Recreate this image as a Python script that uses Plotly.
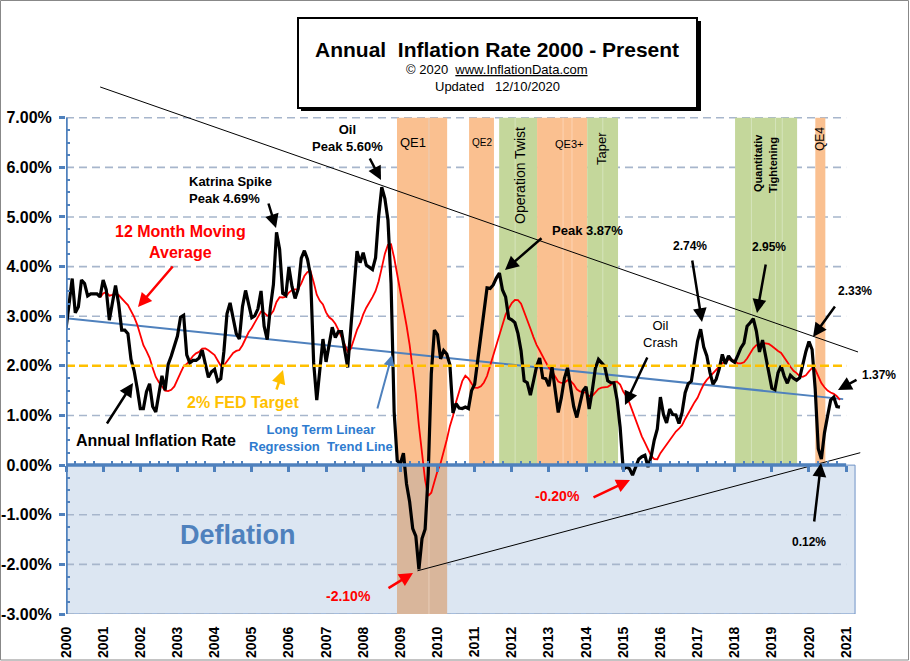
import plotly.graph_objects as go

# ---------------- DATA (annual CPI-U inflation rate, %, monthly) ----------------
rate_2000 = [2.74, 3.22, 3.76, 3.07, 3.19, 3.73, 3.66, 3.41, 3.45, 3.45, 3.45, 3.39]
rate_2001 = [3.73, 3.53, 2.92, 3.27, 3.62, 3.25, 2.72, 2.72, 2.65, 2.13, 1.90, 1.55]
rate_2002 = [1.14, 1.14, 1.48, 1.64, 1.18, 1.07, 1.46, 1.80, 1.51, 2.03, 2.20, 2.38]
rate_2003 = [2.60, 2.98, 3.02, 2.22, 2.06, 2.11, 2.11, 2.16, 2.32, 2.04, 1.77, 1.88]
rate_2004 = [1.93, 1.69, 1.74, 2.29, 3.05, 3.27, 2.99, 2.65, 2.54, 3.19, 3.52, 3.26]
rate_2005 = [2.97, 3.01, 3.15, 3.51, 2.80, 2.53, 3.17, 3.64, 4.69, 4.35, 3.46, 3.42]
rate_2006 = [3.99, 3.60, 3.36, 3.55, 4.17, 4.32, 4.15, 3.82, 2.06, 1.31, 1.97, 2.54]
rate_2007 = [2.08, 2.42, 2.78, 2.57, 2.69, 2.69, 2.36, 1.97, 2.76, 3.54, 4.31, 4.08]
rate_2008 = [4.28, 4.03, 3.98, 3.94, 4.18, 5.02, 5.60, 5.37, 4.94, 3.66, 1.07, 0.09]
rate_2009 = [0.03, 0.24, -0.38, -0.74, -1.28, -1.43, -2.10, -1.48, -1.29, -0.18, 1.84, 2.72]
rate_2010 = [2.63, 2.14, 2.31, 2.24, 2.02, 1.05, 1.24, 1.15, 1.14, 1.17, 1.14, 1.50]
rate_2011 = [1.63, 2.11, 2.68, 3.16, 3.57, 3.56, 3.63, 3.77, 3.87, 3.53, 3.39, 2.96]
rate_2012 = [2.93, 2.87, 2.65, 2.30, 1.70, 1.66, 1.41, 1.69, 1.99, 2.16, 1.76, 1.74]
rate_2013 = [1.59, 1.98, 1.47, 1.06, 1.36, 1.75, 1.96, 1.52, 1.18, 0.96, 1.24, 1.50]
rate_2014 = [1.58, 1.13, 1.51, 1.95, 2.13, 2.07, 1.99, 1.70, 1.66, 1.66, 1.32, 0.76]
rate_2015 = [-0.09, -0.03, -0.07, -0.20, -0.04, 0.12, 0.17, 0.20, -0.04, 0.17, 0.50, 0.73]
rate_2016 = [1.37, 1.02, 0.85, 1.13, 1.02, 1.01, 0.84, 1.06, 1.46, 1.64, 1.69, 2.07]
rate_2017 = [2.50, 2.74, 2.38, 2.20, 1.87, 1.63, 1.73, 1.94, 2.23, 2.04, 2.20, 2.11]
rate_2018 = [2.07, 2.21, 2.36, 2.46, 2.80, 2.87, 2.95, 2.70, 2.28, 2.52, 2.18, 1.91]
rate_2019 = [1.55, 1.52, 1.86, 2.00, 1.79, 1.65, 1.81, 1.75, 1.71, 1.76, 2.05, 2.29]
rate_2020 = [2.49, 2.33, 1.54, 0.33, 0.12, 0.65, 0.99, 1.31, 1.37, 1.18, 1.17]

annual_rate = (rate_2000 + rate_2001 + rate_2002 + rate_2003 + rate_2004 + rate_2005 +
               rate_2006 + rate_2007 + rate_2008 + rate_2009 + rate_2010 + rate_2011 +
               rate_2012 + rate_2013 + rate_2014 + rate_2015 + rate_2016 + rate_2017 +
               rate_2018 + rate_2019 + rate_2020)
months = [2000 + i / 12 for i in range(len(annual_rate))]
# 12 month moving average of the annual rate
ma12 = [sum(annual_rate[i - 11:i + 1]) / 12 for i in range(11, len(annual_rate))]
ma12_x = months[11:]

# Long-term linear regression trend line (end points)
trend_x = [2000.0, 2020.92]
trend_y = [2.96, 1.33]
# Fed 2% target
fed_x = [2000.0, 2021.0]
fed_y = [2.0, 2.0]
# Hand drawn channel lines
upper_x = [2000.92, 2021.32]
upper_y = [7.62, 2.28]
lower_x = [2009.46, 2021.38]
lower_y = [-2.13, 0.25]

# Policy bands
band_names = ["QE1", "QE2", "Operation Twist", "QE3+", "Taper", "Quantitative Tightening", "QE4"]
band_start = [2008.91, 2010.85, 2011.66, 2012.68, 2014.03, 2018.01, 2020.17]
band_end = [2010.26, 2011.52, 2012.68, 2014.03, 2014.86, 2019.68, 2020.44]
band_kind = ["qe", "qe", "tight", "qe", "tight", "tight", "qe"]
band_dividers = [2009.77, 2012.09, 2013.38, 2013.62, 2014.45, 2018.45, 2019.10, 2019.28]

year_ticks = list(range(2000, 2022))
y_ticks = list(range(-3, 8))

# ---------------- LAYOUT GEOMETRY ----------------
W, H = 910, 661
ML, MR, MT, MB = 66, 49, 83, 47
PW, PH = W - ML - MR, H - MT - MB
XR = [2000, 2021.4]
YR = [-3, 7.7]

def PX(px):
    return (px - ML) / PW

def PY(py):
    return (H - MB - py) / PH

ORANGE = "#FAC090"
GREEN = "#C4D79B"
BROWN = "#D9B69B"
BLUE = "#4F81BD"
GRID = "#A7B6CC"
DEFL = "#DCE6F2"
FONT = "Liberation Sans, Arial, sans-serif"

fig = go.Figure()

# traces
fig.add_trace(go.Scatter(x=trend_x, y=trend_y, mode="lines",
                         line=dict(color=BLUE, width=2), hoverinfo="skip"))
fig.add_trace(go.Scatter(x=fed_x, y=fed_y, mode="lines", xaxis="x2",
                         line=dict(color="#FFC000", width=2.5, dash="9px,4px"), hoverinfo="skip"))
fig.add_trace(go.Scatter(x=ma12_x, y=ma12, mode="lines",
                         line=dict(color="#FF0000", width=1.8), hoverinfo="skip"))
fig.add_trace(go.Scatter(x=months, y=annual_rate, mode="lines",
                         line=dict(color="#000000", width=3.2), hoverinfo="skip"))
fig.add_trace(go.Scatter(x=upper_x, y=upper_y, mode="lines",
                         line=dict(color="#000000", width=1), hoverinfo="skip"))
fig.add_trace(go.Scatter(x=lower_x, y=lower_y, mode="lines",
                         line=dict(color="#000000", width=1), hoverinfo="skip"))

shapes = []
# outer border
shapes.append(dict(type="rect", xref="paper", yref="paper", x0=PX(0.5), x1=PX(908.5),
                   y0=PY(660), y1=PY(0.5), line=dict(color="#888888", width=1), layer="below"))
# deflation area
shapes.append(dict(type="rect", xref="x", yref="y", x0=2000, x1=2021.24, y0=-3, y1=0,
                   fillcolor=DEFL, line=dict(color="#6F93C6", width=1), layer="below"))
# dashed grid
for v in y_ticks:
    if v == 0:
        continue
    shapes.append(dict(type="line", xref="x", yref="y", x0=2000, x1=2021, y0=v, y1=v,
                       line=dict(color=GRID, width=1.6, dash="8px,5px"), layer="below"))
# bands
for s, e, k in zip(band_start, band_end, band_kind):
    col = ORANGE if k == "qe" else GREEN
    shapes.append(dict(type="rect", xref="x", yref="y", x0=s, x1=e, y0=0, y1=7,
                       fillcolor=col, line=dict(width=0), layer="below"))
    if s < 2009.5:
        shapes.append(dict(type="rect", xref="x", yref="y", x0=s, x1=e, y0=-3, y1=0,
                           fillcolor=BROWN, line=dict(width=0), layer="below"))
for d in band_dividers:
    y0 = -3 if d < 2010 else 0
    col = "#E8CDB8" if d < 2010 else ("#FCD3B4" if 2013 < d < 2014 else "#D6E4BC")
    shapes.append(dict(type="line", xref="x", yref="y", x0=d, x1=d, y0=y0, y1=7,
                       line=dict(color=col, width=1), layer="below"))
# axis lines
shapes.append(dict(type="line", xref="x", yref="y", x0=2000, x1=2021, y0=0, y1=0,
                   line=dict(color=BLUE, width=3.5)))
shapes.append(dict(type="line", xref="x", yref="y", x0=2000, x1=2000, y0=-3, y1=7,
                   line=dict(color=BLUE, width=3.5)))
# title box
shapes.append(dict(type="rect", xref="paper", yref="paper", x0=PX(301), x1=PX(701),
                   y0=PY(111), y1=PY(21), fillcolor="#000000", line=dict(width=0)))
shapes.append(dict(type="rect", xref="paper", yref="paper", x0=PX(298), x1=PX(697),
                   y0=PY(108), y1=PY(18), fillcolor="#FFFFFF", line=dict(color="#000000", width=2)))

ann = []

def text(t, px, py, size, color="#000000", bold=False, angle=0, xanchor="center", align="center"):
    ann.append(dict(text=t, x=PX(px), y=PY(py), xref="paper", yref="paper", showarrow=False,
                    xanchor=xanchor, yanchor="middle", align=align, textangle=angle,
                    font=dict(family=FONT, size=size, color=color,
                              weight="bold" if bold else "normal")))

def arrow(tx, ty, hx, hy, color="#000000", width=2.5):
    ann.append(dict(text="", x=PX(hx), y=PY(hy), xref="paper", yref="paper",
                    ax=tx - hx, ay=ty - hy, axref="pixel", ayref="pixel", showarrow=True,
                    arrowhead=2, arrowsize=1.1, arrowwidth=width, arrowcolor=color,
                    standoff=0, startstandoff=0))

# title
text("Annual  Inflation Rate 2000 - Present", 497, 49, 21, bold=True)
text("© 2020  <u>www.InflationData.com</u>", 497, 70, 13)
text("Updated   12/10/2020", 497, 87, 13)

# band labels
text("QE1", 413, 143, 13)
text("QE2", 482, 143, 10)
text("Operation Twist", 520, 176, 14, angle=-90)
text("QE3+", 569, 144, 11)
text("Taper", 601, 149, 13, angle=-90)
text("Quantitativ", 758, 163, 11, bold=True, angle=-90)
text("Tightening", 773, 165, 11, bold=True, angle=-90)
text("QE4", 820, 139, 12, angle=-90)

# callouts
text("Oil<br>Peak 5.60%", 347, 138, 13, bold=True)
arrow(369, 157, 381, 180)
text("Katrina Spike<br>Peak 4.69%", 187, 190, 13, bold=True, xanchor="left", align="left")
arrow(268, 202, 276, 228)
text("12 Month Moving<br>Average", 180, 242, 16, color="#FF0000", bold=True)
arrow(174, 265, 138, 307, color="#FF0000")
text("Peak 3.87%", 550, 230, 13, bold=True, xanchor="left")
arrow(543, 237, 505, 270)
text("2.74%", 690, 246, 12, bold=True)
arrow(692, 259, 702, 322)
text("2.95%", 769, 247, 12, bold=True)
arrow(766, 263, 757, 313)
text("2.33%", 855, 291, 12, bold=True)
arrow(836, 305, 813, 337)
text("Oil<br>Crash", 660, 334, 13)
arrow(648, 356, 625, 405)
text("1.37%", 879, 375, 12, bold=True)
arrow(858, 379, 838, 390)
text("0.12%", 809, 542, 12, bold=True)
arrow(814, 523, 821, 463)
text("-0.20%", 557, 496, 14, color="#FF0000", bold=True)
arrow(592, 498, 630, 480, color="#FF0000")
text("-2.10%", 348, 596, 14, color="#FF0000", bold=True)
arrow(387, 589, 413, 573, color="#FF0000")
text("Annual Inflation Rate", 156, 440, 16, bold=True)
arrow(106, 425, 133, 383)
text("2% FED Target", 243, 402, 16, color="#FFC000", bold=True)
arrow(276, 391, 283, 370, color="#FFC000")
text("Long Term Linear<br>Regression  Trend Line", 321, 438, 13, color="#2E7BCF", bold=True)
arrow(377, 410, 392, 355, color=BLUE, width=2)
text("Deflation", 238, 535, 27, color=BLUE, bold=True)

minor_y = [v / 4 for v in range(-12, 29) if v % 4 != 0]
minor_x = [2000 + q / 4 for q in range(0, 85) if q % 4 != 0]

fig.update_layout(
    width=W, height=H,
    margin=dict(l=ML, r=MR, t=MT, b=MB, pad=0, autoexpand=False),
    paper_bgcolor="white", plot_bgcolor="white",
    showlegend=False,
    shapes=shapes, annotations=ann,
    font=dict(family=FONT, color="#000000"),
    xaxis=dict(range=XR, showgrid=False, zeroline=False, showline=False, automargin=False,
               tickmode="array", tickvals=year_ticks, ticktext=[str(y) for y in year_ticks],
               tickangle=-90, ticks="", ticklabelstandoff=9,
               tickfont=dict(family=FONT, size=14, color="#000000", weight="bold")),
    xaxis2=dict(range=XR, overlaying="x", anchor="free", position=3 / 10.7, automargin=False,
                showgrid=False, zeroline=False, showline=False, showticklabels=False,
                tickmode="array", tickvals=year_ticks, ticks="outside", ticklen=6,
                tickwidth=2.5, tickcolor=BLUE,
                minor=dict(tickmode="array", tickvals=minor_x, ticks="inside", ticklen=4,
                           tickwidth=2, tickcolor=BLUE, showgrid=False)),
    yaxis=dict(range=YR, showgrid=False, zeroline=False, showline=False, automargin=False,
               tickmode="array", tickvals=y_ticks, ticktext=[f"{v:.2f}%" for v in y_ticks],
               ticks="outside", ticklen=6, tickwidth=2.5, tickcolor=BLUE, ticklabelstandoff=4,
               tickfont=dict(family=FONT, size=16, color="#000000", weight="bold"),
               minor=dict(tickmode="array", tickvals=minor_y, ticks="inside", ticklen=4,
                          tickwidth=2, tickcolor=BLUE, showgrid=False)),
)

fig.write_html("out.html")
